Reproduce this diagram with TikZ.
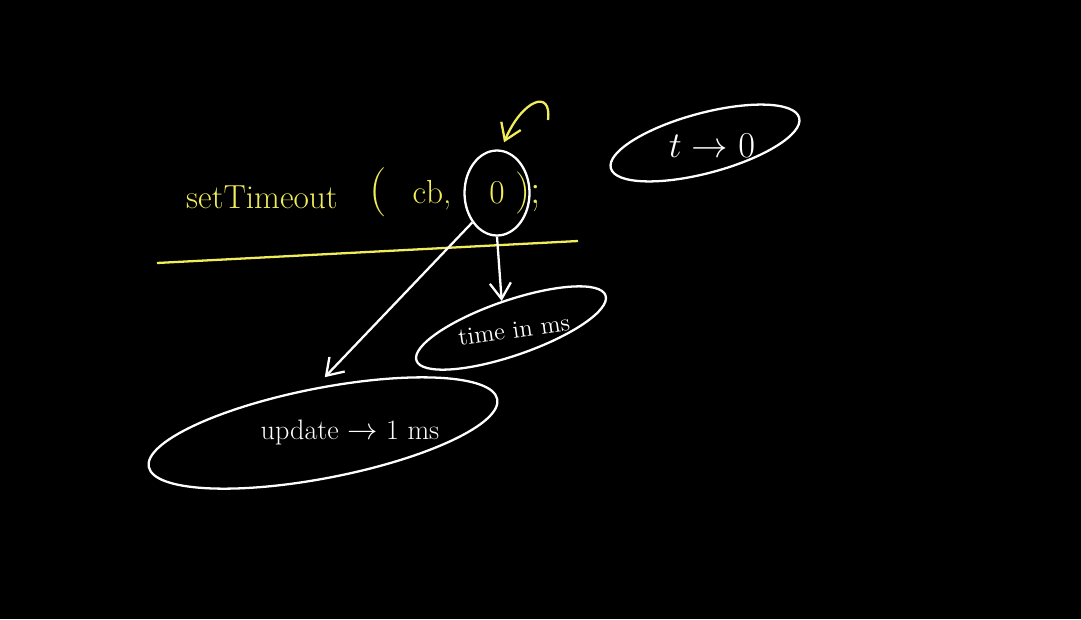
\documentclass[tikz,border=0pt]{standalone}
\usetikzlibrary{shapes.geometric,arrows.meta}
\definecolor{chalkyellow}{RGB}{240,236,90}
\begin{document}
\begin{tikzpicture}[x=0.02cm,y=-0.02cm, >={Straight Barb[length=9pt,width=12pt]},
  chalk/.style={draw=white, line width=1.3pt},
  bubble/.style={chalk, ellipse, inner sep=0pt},
  yellowtext/.style={text=chalkyellow, font=\fontsize{19}{22}\selectfont, inner sep=1pt}]
\fill[black] (0,0) rectangle (1081,619);
\useasboundingbox (0,0) rectangle (1081,619);
% the call, written in yellow
\path (262,197) node[yellowtext] (fn) {setTimeout};
\path (378,192) node[yellowtext, font=\fontsize{28}{30}\selectfont] (lpar) {(};
\path (432,195) node[yellowtext] (cb) {cb,};
\path (497,193) node[yellowtext] (zerotxt) {0};
\path (528,193) node[yellowtext, font=\fontsize{24}{26}\selectfont] (rpar) {);};
\node[bubble, minimum width=1.3cm, minimum height=1.7cm] (zero) at (497,193) {};
\coordinate (lineA) at (157,263);
\coordinate (lineB) at (578,241);
\draw[chalkyellow, line width=1.3pt] (lineA) -- (lineB);
% yellow pointer at the delay
\coordinate (curlstart) at (548,120);
\draw[chalkyellow, line width=1.3pt, ->] (curlstart) .. controls (552,88) and (522,100) .. ([xshift=4pt,yshift=4pt]zero.north);
% bubbles
\node[bubble, rotate=15, minimum width=3.9cm, minimum height=1.2cm] (tzero) at (705,143) {};
\path (712,146) node[text=white, font=\fontsize{20}{22}\selectfont] (tzerotxt) {$t \rightarrow 0$};
\node[bubble, rotate=19, minimum width=4cm, minimum height=1.1cm] (time) at (511,328) {};
\path (514,330) node[text=white, rotate=8, font=\fontsize{14}{16}\selectfont] (timetxt) {time in ms};
\node[bubble, rotate=11, minimum width=7.1cm, minimum height=1.8cm] (upd) at (323,433) {};
\path (350,432) node[text=white, font=\fontsize{16}{18}\selectfont] (updtxt) {update $\rightarrow$ 1 ms};
% arrows out of the zero
\draw[chalk, ->] (zero.230) -- ([xshift=6pt,yshift=6pt]upd.north);
\draw[chalk, ->] (zero.south) -- (time.north);
\end{tikzpicture}
\end{document}
